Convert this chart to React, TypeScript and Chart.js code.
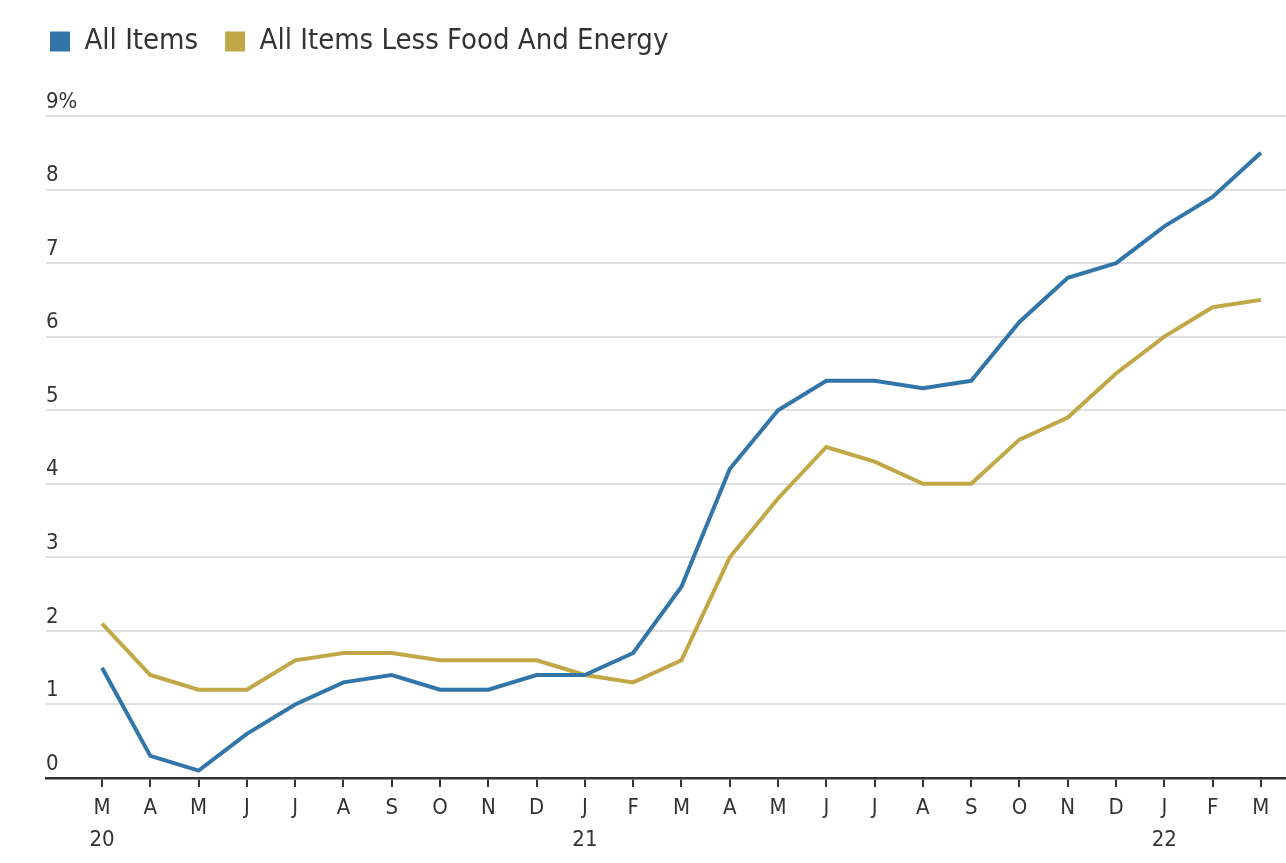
import React, { useEffect, useRef } from "react";
import { Chart, registerables } from "chart.js";

Chart.register(...registerables);

const monthLabels = ["M", "A", "M", "J", "J", "A", "S", "O", "N", "D", "J", "F", "M", "A", "M", "J", "J", "A", "S", "O", "N", "D", "J", "F", "M"];
const yearLabels: Record<number, string> = { 0: "20", 10: "21", 22: "22" };
const allItems = [1.5, 0.3, 0.1, 0.6, 1.0, 1.3, 1.4, 1.2, 1.2, 1.4, 1.4, 1.7, 2.6, 4.2, 5.0, 5.4, 5.4, 5.3, 5.4, 6.2, 6.8, 7.0, 7.5, 7.9, 8.5];
const coreItems = [2.1, 1.4, 1.2, 1.2, 1.6, 1.7, 1.7, 1.6, 1.6, 1.6, 1.4, 1.3, 1.6, 3.0, 3.8, 4.5, 4.3, 4.0, 4.0, 4.6, 4.9, 5.5, 6.0, 6.4, 6.5];
const yTicks = [0, 1, 2, 3, 4, 5, 6, 7, 8, 9];

const FONT = '"Liberation Sans Narrow", "DejaVu Sans Condensed", "Open Sans", sans-serif';
const BLUE = "#3275a8";
const GOLD = "#c1a746";
const TEXT = "#333333";

const legendHeightPlugin = {
  id: "legendHeight",
  beforeLayout(chart: any) {
    const lg = chart.legend;
    if (lg && !lg.__patched) {
      const orig = lg.fit;
      lg.fit = function () {
        orig.call(this);
        this.height = 116;
      };
      lg.__patched = true;
    }
  },
};

export default function App() {
  const ref = useRef<HTMLCanvasElement | null>(null);

  useEffect(() => {
    document.body.style.margin = "0";
    if (!ref.current) return;
    const chart = new Chart(ref.current, {
      type: "line",
      data: {
        datasets: [
          {
            label: "All Items",
            data: allItems.map((v, i) => ({ x: i, y: v })),
            borderColor: BLUE,
            backgroundColor: BLUE,
            borderWidth: 4,
            pointRadius: 0,
            tension: 0,
          },
          {
            label: "All Items Less Food And Energy",
            data: coreItems.map((v, i) => ({ x: i, y: v })),
            borderColor: GOLD,
            backgroundColor: GOLD,
            borderWidth: 4,
            pointRadius: 0,
            tension: 0,
          },
        ],
      },
      plugins: [legendHeightPlugin],
      options: {
        animation: false,
        responsive: true,
        maintainAspectRatio: false,
        layout: { padding: { left: 23, right: 0, top: 0, bottom: 0 } },
        plugins: {
          tooltip: { enabled: false },
          legend: {
            display: true,
            position: "top",
            align: "start",
            labels: {
              boxWidth: 20,
              boxHeight: 20,
              padding: 27,
              color: TEXT,
              font: { family: FONT, size: 29 },
              generateLabels: (c: any) =>
                c.data.datasets.map((ds: any, i: number) => ({
                  text: ds.label,
                  fillStyle: ds.borderColor,
                  strokeStyle: ds.borderColor,
                  lineWidth: 0,
                  hidden: false,
                  datasetIndex: i,
                  fontColor: TEXT,
                })),
            },
          },
        },
        scales: {
          x: {
            type: "linear",
            min: -1.16,
            max: 24.52,
            afterBuildTicks: (axis: any) => {
              axis.ticks = monthLabels.map((_, i) => ({ value: i }));
            },
            afterFit: (axis: any) => {
              axis.height = 85;
            },
            ticks: {
              autoSkip: false,
              maxRotation: 0,
              padding: 5,
              color: TEXT,
              font: { family: FONT, size: 22, lineHeight: 1.45 },
              callback: (v: any) => {
                const i = Math.round(Number(v));
                const m = monthLabels[i];
                if (m === undefined) return "";
                return yearLabels[i] ? [m, yearLabels[i]] : m;
              },
            },
            grid: {
              drawOnChartArea: false,
              drawTicks: true,
              tickLength: 9,
              color: TEXT,
              lineWidth: 2,
            },
            border: { display: true, color: TEXT, width: 2.5 },
          },
          y: {
            type: "linear",
            min: 0,
            max: 9,
            afterBuildTicks: (axis: any) => {
              axis.ticks = yTicks.map((v) => ({ value: v }));
            },
            afterFit: (axis: any) => {
              axis.width = 23;
            },
            ticks: {
              mirror: true,
              padding: 0,
              labelOffset: -14,
              color: TEXT,
              font: { family: FONT, size: 22 },
              callback: (v: any) => (Number(v) === 9 ? "9%" : String(v)),
            },
            grid: {
              drawTicks: false,
              color: (ctx: any) => (ctx.tick && ctx.tick.value === 0 ? "rgba(0,0,0,0)" : "#e0e0e0"),
              lineWidth: 2,
            },
            border: { display: false },
          },
        },
      },
    });
    return () => chart.destroy();
  }, []);

  return (
    <div style={{ position: "fixed", left: 0, top: 0, width: 1286, height: 863, background: "#fff" }}>
      <canvas ref={ref} />
    </div>
  );
}
